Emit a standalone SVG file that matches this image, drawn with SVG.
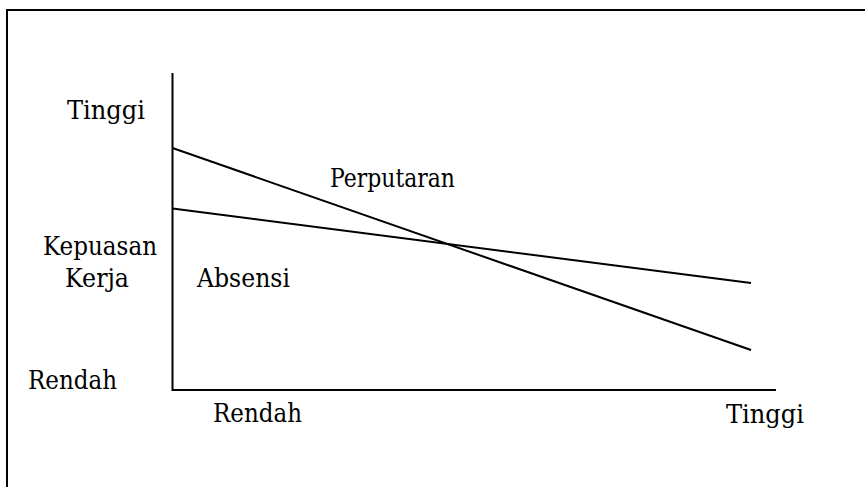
<svg xmlns="http://www.w3.org/2000/svg" width="865" height="487" viewBox="0 0 865 487">
  <style>
    .frame { fill: none; stroke: #000; stroke-width: 2; }
    .axis { fill: none; stroke: #000; stroke-width: 2; }
    .curve { fill: none; stroke: #000; stroke-width: 2; }
    .lbl { font-family: "DejaVu Serif", serif; font-size: 26px; fill: #000; }
  </style>
  <rect width="865" height="487" fill="#fff"/>
  <!-- open frame: top and left edges only -->
  <path class="frame" d="M7,487 V10 H865"/>
  <g id="axes">
    <path class="axis" d="M172.5,73 V390 H776"/>
  </g>
  <g id="connectors">
    <line class="curve" x1="172.5" y1="148" x2="751" y2="350"/>
    <line class="curve" x1="172.5" y1="208.5" x2="751" y2="283"/>
  </g>
  <g id="label-y-high"><text class="lbl" x="67" y="119" textLength="78" lengthAdjust="spacingAndGlyphs">Tinggi</text></g>
  <g id="label-y-title">
    <text class="lbl" x="43" y="255" textLength="114" lengthAdjust="spacingAndGlyphs">Kepuasan</text>
    <text class="lbl" x="65" y="287" textLength="64" lengthAdjust="spacingAndGlyphs">Kerja</text>
  </g>
  <g id="label-y-low"><text class="lbl" x="28" y="389" textLength="89" lengthAdjust="spacingAndGlyphs">Rendah</text></g>
  <g id="label-x-low"><text class="lbl" x="213" y="422" textLength="89" lengthAdjust="spacingAndGlyphs">Rendah</text></g>
  <g id="label-x-high"><text class="lbl" x="726" y="423" textLength="78" lengthAdjust="spacingAndGlyphs">Tinggi</text></g>
  <g id="label-turnover"><text class="lbl" x="330" y="187" textLength="125" lengthAdjust="spacingAndGlyphs">Perputaran</text></g>
  <g id="label-absence"><text class="lbl" x="197" y="287" textLength="93" lengthAdjust="spacingAndGlyphs">Absensi</text></g>
</svg>
